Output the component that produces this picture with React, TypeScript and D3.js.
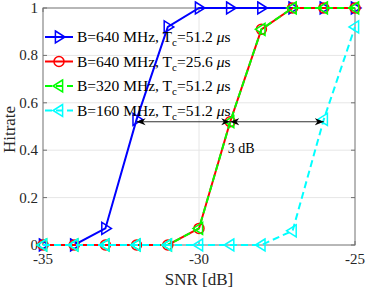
import React, { useRef, useEffect } from "react";
import * as d3 from "d3";

// data
const snr = [-35, -34, -33, -32, -31, -30, -29, -28, -27, -26, -25];
const blue640 = [0, 0, 0.07, 0.53, 0.92, 1, 1, 1, 1, 1, 1];
const red640 = [0, 0, 0, 0, 0, 0.07, 0.52, 0.91, 1, 1, 1];
const green320 = [0, 0, 0, 0, 0, 0.07, 0.52, 0.91, 1, 1, 1];
const cyan160 = [0, 0, 0, 0, 0, 0, 0, 0, 0.06, 0.53, 0.92];
const xTicks = [-35, -30, -25];
const yTicks = [0, 0.2, 0.4, 0.6, 0.8, 1];
const legendB = ["B=640 MHz, T", "B=640 MHz, T", "B=320 MHz, T", "B=160 MHz, T"];
const legendT = ["=51.2 ", "=25.6 ", "=51.2 ", "=51.2 "];

const W = 366, H = 290;
const m = { left: 43, right: 11, top: 8, bottom: 45 };

function triPath(dir: "r" | "l", s: number) {
  if (dir === "r") return `M${-s * 0.6},${-s}L${s},0L${-s * 0.6},${s}Z`;
  return `M${s * 0.6},${-s}L${-s},0L${s * 0.6},${s}Z`;
}

function Chart() {
  const svgRef = useRef<SVGSVGElement>(null);

  useEffect(() => {
    const svg = d3.select(svgRef.current);
    svg.selectAll("*").remove();

    const x = d3.scaleLinear().domain([-35, -25]).range([m.left, W - m.right]);
    const y = d3.scaleLinear().domain([0, 1]).range([H - m.bottom, m.top]);
    const font = "'Liberation Serif', 'Times New Roman', serif";

    // grid
    const g = svg.append("g");
    g.selectAll(".gy")
      .data(yTicks.filter((t) => t > 0 && t < 1))
      .join("line")
      .attr("x1", x(-35)).attr("x2", x(-25))
      .attr("y1", (d) => y(d)).attr("y2", (d) => y(d))
      .attr("stroke", "#e6e6e6").attr("stroke-width", 1);
    g.selectAll(".gx")
      .data([-30])
      .join("line")
      .attr("x1", (d) => x(d)).attr("x2", (d) => x(d))
      .attr("y1", y(0)).attr("y2", y(1))
      .attr("stroke", "#e6e6e6").attr("stroke-width", 1);

    // box
    svg.append("rect")
      .attr("x", x(-35)).attr("y", y(1))
      .attr("width", x(-25) - x(-35)).attr("height", y(0) - y(1))
      .attr("fill", "none").attr("stroke", "#707070").attr("stroke-width", 1);

    // ticks
    const tl = 4;
    yTicks.forEach((t) => {
      svg.append("line").attr("x1", x(-35)).attr("x2", x(-35) + tl)
        .attr("y1", y(t)).attr("y2", y(t)).attr("stroke", "#707070");
      svg.append("line").attr("x1", x(-25)).attr("x2", x(-25) - tl)
        .attr("y1", y(t)).attr("y2", y(t)).attr("stroke", "#707070");
      svg.append("text").attr("x", x(-35) - 5).attr("y", y(t) + 5)
        .attr("text-anchor", "end").attr("font-family", font).attr("font-size", 15)
        .attr("fill", "#262626").text(d3.format("~g")(t));
    });
    xTicks.forEach((t) => {
      svg.append("line").attr("x1", x(t)).attr("x2", x(t))
        .attr("y1", y(0)).attr("y2", y(0) - tl).attr("stroke", "#707070");
      svg.append("line").attr("x1", x(t)).attr("x2", x(t))
        .attr("y1", y(1)).attr("y2", y(1) + tl).attr("stroke", "#707070");
      svg.append("text").attr("x", x(t)).attr("y", y(0) + 19)
        .attr("text-anchor", "middle").attr("font-family", font).attr("font-size", 15)
        .attr("fill", "#262626").text(String(t));
    });

    svg.append("text").attr("x", (x(-35) + x(-25)) / 2).attr("y", H - 5)
      .attr("text-anchor", "middle").attr("font-family", font).attr("font-size", 17)
      .attr("fill", "#262626").text("SNR [dB]");
    svg.append("text")
      .attr("transform", `translate(15,${(y(0) + y(1)) / 2 + 3}) rotate(-90)`)
      .attr("text-anchor", "middle").attr("font-family", font).attr("font-size", 17)
      .attr("fill", "#262626").text("Hitrate");

    // series
    const series = [
      { v: blue640, color: "#0000ff", dash: null, mk: "r" },
      { v: red640, color: "#ff0000", dash: null, mk: "o" },
      { v: green320, color: "#00ff00", dash: "7,4", mk: "l" },
      { v: cyan160, color: "#00ffff", dash: "7,4", mk: "l" },
    ];
    const ln = d3.line<number>().x((_, i) => x(snr[i])).y((d) => y(d));

    const drawMarker = (sel: any, mk: string, color: string, cx: number, cy: number) => {
      if (mk === "o") {
        sel.append("circle").attr("cx", cx).attr("cy", cy).attr("r", 5)
          .attr("fill", "none").attr("stroke", color).attr("stroke-width", 1.5);
      } else {
        sel.append("path").attr("d", triPath(mk as "r" | "l", 6))
          .attr("transform", `translate(${cx},${cy})`)
          .attr("fill", "none").attr("stroke", color).attr("stroke-width", 1.5);
      }
    };

    series.forEach((s) => {
      svg.append("path").attr("d", ln(s.v)!)
        .attr("fill", "none").attr("stroke", s.color).attr("stroke-width", 2)
        .attr("stroke-dasharray", s.dash);
      s.v.forEach((d, i) => drawMarker(svg, s.mk, s.color, x(snr[i]), y(d)));
    });

    // annotation arrows
    const defs = svg.append("defs");
    defs.append("marker").attr("id", "ah").attr("viewBox", "0 0 10 10")
      .attr("refX", 10).attr("refY", 5).attr("markerWidth", 9).attr("markerHeight", 9)
      .attr("markerUnits", "userSpaceOnUse").attr("orient", "auto-start-reverse")
      .append("path").attr("d", "M0,1L10,5L0,9L3,5Z").attr("fill", "#000");
    const ay = y(0.52);
    [[-32, -29], [-29, -26]].forEach(([a, b]) => {
      svg.append("line").attr("x1", x(a)).attr("x2", x(b))
        .attr("y1", ay).attr("y2", ay).attr("stroke", "#333").attr("stroke-width", 1)
        .attr("marker-start", "url(#ah)").attr("marker-end", "url(#ah)");
    });
    svg.append("text").attr("x", x(-28.65)).attr("y", ay + 31)
      .attr("text-anchor", "middle").attr("font-family", font).attr("font-size", 14)
      .attr("fill", "#000").text("3 dB");

    // legend
    const lx = 45, ly0 = 37, dy = 24.5;
    series.forEach((s, i) => {
      const yy = ly0 + i * dy;
      svg.append("line").attr("x1", lx).attr("x2", lx + 28).attr("y1", yy).attr("y2", yy)
        .attr("stroke", s.color).attr("stroke-width", 2).attr("stroke-dasharray", s.dash);
      drawMarker(svg, s.mk, s.color, lx + 14, yy);
      const t = svg.append("text").attr("x", lx + 32).attr("y", yy + 5)
        .attr("font-family", font).attr("font-size", 15.5).attr("fill", "#000");
      t.append("tspan").text(legendB[i]);
      t.append("tspan").attr("font-size", 11).attr("dy", 4).text("c");
      t.append("tspan").attr("dy", -4).text(legendT[i]);
      t.append("tspan").attr("font-style", "italic").text("\u03bc");
      t.append("tspan").text("s");
    });
  }, []);

  return (
    <svg
      ref={svgRef}
      width={W}
      height={H}
      style={{ position: "fixed", left: 0, top: 0, display: "block", background: "#fff" }}
    />
  );
}

export default function App() {
  return <Chart />;
}
